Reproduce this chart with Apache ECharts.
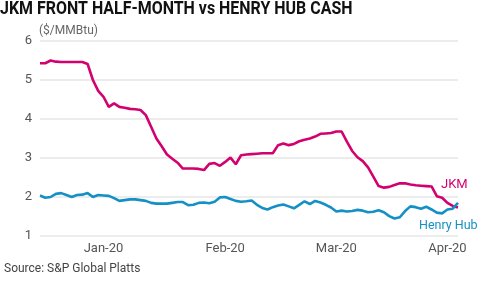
<!DOCTYPE html>
<html><head><meta charset="utf-8">
<script src="https://cdn.jsdelivr.net/npm/echarts@6/dist/echarts.min.js"></script>
<style>html,body{margin:0;padding:0;background:#fff}#c{width:484px;height:281px}</style>
</head><body><div id="c"></div>
<script>
const titleText = 'JKM FRONT HALF-MONTH vs HENRY HUB CASH';
const unitText = '($/MMBtu)';
const sourceText = 'Source: S&P Global Platts';
const monthLabels = ['Jan-20', 'Feb-20', 'Mar-20', 'Apr-20'];
const monthLabelIndex = [12, 35, 56, 77];
const yTicks = [1, 2, 3, 4, 5, 6];
const jkm = [5.43,5.43,5.50,5.47,5.46,5.46,5.46,5.46,5.46,5.41,
  5.00,4.72,4.57,4.31,4.40,4.31,4.29,4.26,4.25,4.23,
  4.10,3.80,3.50,3.30,3.09,2.98,2.88,2.73,2.73,2.73,
  2.72,2.69,2.85,2.87,2.80,2.90,3.01,2.84,3.07,3.09,
  3.10,3.11,3.12,3.12,3.12,3.33,3.37,3.33,3.36,3.43,
  3.47,3.50,3.55,3.62,3.63,3.64,3.68,3.68,3.42,3.18,
  3.02,2.92,2.76,2.52,2.28,2.24,2.26,2.31,2.35,2.35,
  2.32,2.30,2.29,2.28,2.27,2.02,1.98,1.85,1.77,1.73];
const henryHub = [2.04,1.98,2.00,2.08,2.10,2.05,2.00,2.05,2.06,2.10,
  2.00,2.05,2.04,2.03,1.97,1.90,1.92,1.94,1.94,1.92,
  1.90,1.85,1.83,1.83,1.83,1.85,1.87,1.87,1.79,1.80,
  1.85,1.86,1.84,1.88,1.99,2.00,1.95,1.90,1.88,1.89,
  1.91,1.80,1.72,1.68,1.74,1.78,1.81,1.76,1.71,1.80,
  1.89,1.82,1.90,1.86,1.80,1.73,1.63,1.65,1.63,1.64,
  1.67,1.65,1.61,1.62,1.66,1.61,1.51,1.45,1.48,1.64,
  1.76,1.74,1.70,1.75,1.68,1.60,1.58,1.68,1.70,1.85];
const categories = jkm.map((_, i) => i);

const FONT = 'Roboto';
const chart = echarts.init(document.getElementById('c'), null, {renderer: 'canvas'});
chart.setOption({
  animation: false,
  title: [
    {text: sourceText, left: -1, bottom: 1, textStyle: {fontFamily: FONT, fontWeight: 'normal', fontSize: 12, color: '#444'}}
  ],
  graphic: [
    {type: 'text', left: 0, top: 0, scaleX: 0.84,
     style: {text: titleText, font: 'bold 19px Roboto', fill: '#111'}}
  ],
  grid: {left: 40, right: 26, top: 41, bottom: 45},
  xAxis: {
    type: 'category', data: categories, boundaryGap: false,
    axisLine: {show: false}, axisTick: {show: false},
    axisLabel: {
      interval: (i) => monthLabelIndex.includes(i),
      formatter: (v, i) => monthLabels[monthLabelIndex.indexOf(i)] || '',
      fontFamily: FONT, fontSize: 13, color: '#555', margin: 6
    },
    splitLine: {show: false}
  },
  yAxis: {
    type: 'value', min: yTicks[0], max: yTicks[yTicks.length - 1], interval: 1,
    name: unitText, nameLocation: 'end', nameGap: 4,
    nameTextStyle: {fontFamily: FONT, fontSize: 12, color: '#666', align: 'left', padding: [0, 0, 0, -1]},
    axisLine: {show: false}, axisTick: {show: false},
    axisLabel: {fontFamily: FONT, fontSize: 13, color: '#555', margin: 8},
    splitLine: {lineStyle: {color: '#e6e6e6', width: 1.5}}
  },
  series: [
    {name: 'JKM', type: 'line', data: jkm, symbol: 'none', lineStyle: {color: '#d3006f', width: 2.6},
     endLabel: {show: true, formatter: 'JKM', position: 'right', distance: 0, offset: [-17, -23], overflow: 'none', fontFamily: FONT, fontSize: 13, color: '#d3006f'}},
    {name: 'Henry Hub', type: 'line', data: henryHub, symbol: 'none', lineStyle: {color: '#1590c5', width: 2.6},
     endLabel: {show: true, formatter: 'Henry Hub', position: 'right', distance: 0, offset: [-39, 23], overflow: 'none', fontFamily: FONT, fontSize: 12.5, color: '#1590c5'}}
  ]
});
</script></body></html>
